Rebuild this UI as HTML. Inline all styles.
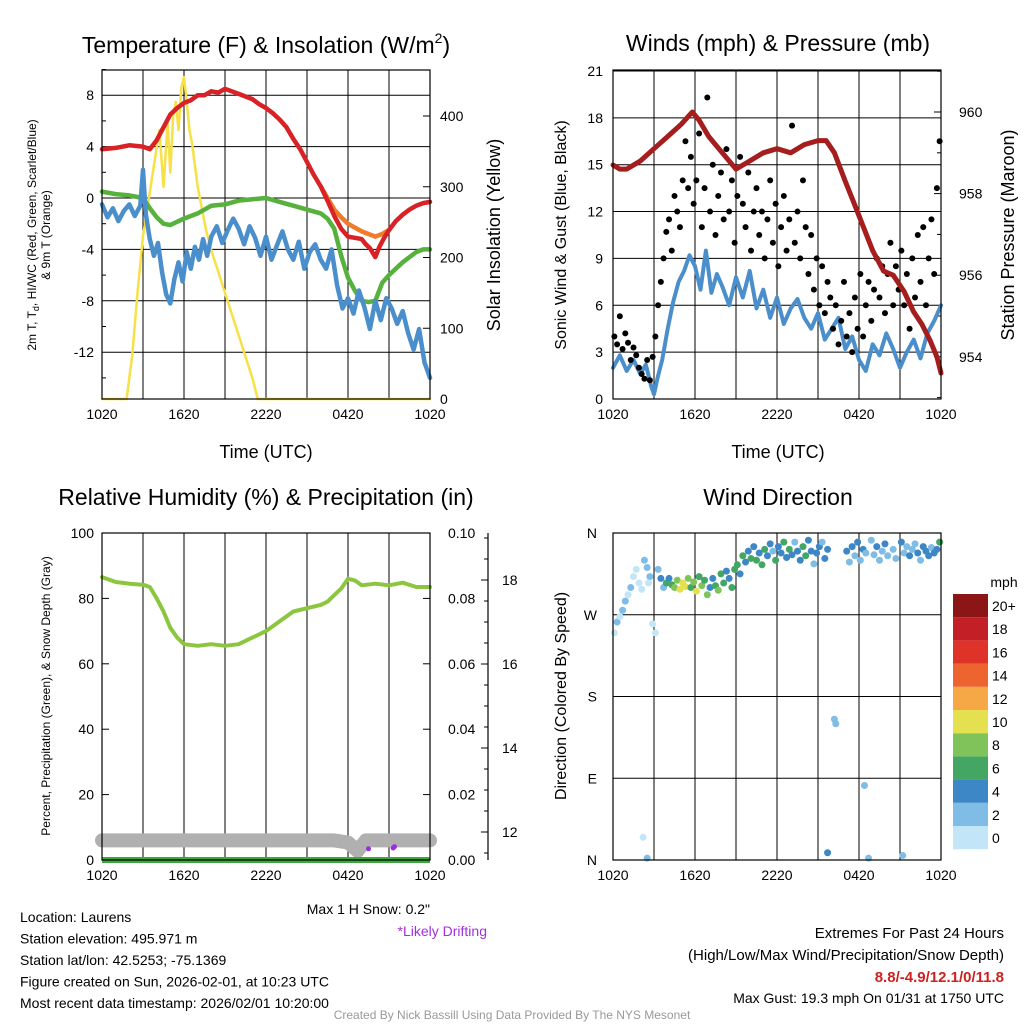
<!DOCTYPE html>
<html><head><meta charset="utf-8"><style>
html,body{margin:0;padding:0;background:#fff}
svg{display:block;font-family:"Liberation Sans",sans-serif}
</style></head><body>
<svg id="c" width="1024" height="1024" viewBox="0 0 1024 1024" xmlns="http://www.w3.org/2000/svg"></svg>
<script>
// ---------------- DATA ----------------
const xTickLabels=["1020","1620","2220","0420","1020"];
const tempTickLabels=["8","4","0","-4","-8","-12"];
const tempTickValues=[8,4,0,-4,-8,-12];
const solarTickValues=[0,100,200,300,400];
const windTickValues=[0,3,6,9,12,15,18,21];
const presTickValues=[954,956,958,960];
const rhTickValues=[0,20,40,60,80,100];
const precipTickLabels=["0.00","0.02","0.04","0.06","0.08","0.10"];
const snowTickValues=[12,14,16,18];
const dirTickLabels=["N","E","S","W","N"];
const speedBinLabels=["0","2","4","6","8","10","12","14","16","18","20+"];

const redHours=[0,1,2,3,3.5,4,4.5,5,5.5,6,6.5,7,7.5,8,8.5,9,9.5,10,10.5,11,11.5,12,12.5,13,13.5,14,14.5,15,15.5,16,16.5,17,17.5,18,18.5,19,19.3,19.6,20,20.3,20.6,21,21.5,22,22.5,23,23.5,24];
const redTemp=[3.8,3.9,4.1,4.0,3.8,4.5,5.5,6.5,7.0,7.4,7.6,8.0,8.0,8.3,8.2,8.5,8.3,8.1,7.9,7.7,7.3,7.0,6.6,6.1,5.5,4.6,3.8,2.8,1.8,0.9,-0.2,-1.4,-2.4,-3.0,-3.1,-3.2,-3.6,-3.9,-4.6,-3.8,-3.2,-2.5,-1.8,-1.3,-0.9,-0.6,-0.4,-0.3];
const orangeHours=[16,16.5,17,17.5,18,18.5,19,19.5,20,20.5,21];
const orangeTemp=[0.9,0,-0.9,-1.5,-2.0,-2.3,-2.6,-2.8,-3.0,-2.8,-2.5];
const greenHours=[0,1,2,3,3.5,4,4.5,5,6,7,8,9,10,11,12,13,14,15,16,16.5,17,17.5,18,18.5,19,19.5,20,20.5,21,21.5,22,22.5,23,23.5,24];
const greenTemp=[0.5,0.3,0.2,0,-0.8,-1.5,-2.0,-2.1,-1.6,-1.2,-0.6,-0.5,-0.2,-0.1,0,-0.3,-0.6,-0.9,-1.2,-1.6,-2.4,-4.5,-6.2,-7.2,-8.0,-8.1,-8.0,-6.6,-6.0,-5.5,-5.0,-4.6,-4.2,-4.0,-4.0];
const blueHours=[0,0.4,0.8,1.2,1.6,2,2.4,2.8,3.0,3.2,3.5,3.8,4.1,4.4,4.7,5.0,5.3,5.6,5.9,6.2,6.5,6.8,7.1,7.4,7.7,8.0,8.4,8.8,9.2,9.6,10,10.4,10.8,11.2,11.6,12,12.4,12.8,13.2,13.6,14,14.4,14.8,15.2,15.6,16,16.4,16.8,17.2,17.6,18,18.4,18.8,19.2,19.6,20,20.4,20.8,21.2,21.6,22,22.4,22.8,23.2,23.6,24];
const blueTemp=[-0.5,-1.5,-0.8,-1.8,-1.0,-0.5,-1.4,-0.6,2.2,-1.2,-3.2,-4.5,-3.5,-5.8,-7.5,-8.2,-6.3,-5.0,-6.5,-4.2,-5.5,-3.8,-4.8,-3.2,-4.5,-3.0,-2.2,-3.5,-2.5,-1.6,-2.4,-3.6,-2.2,-3.1,-4.5,-3.0,-4.8,-3.7,-2.6,-4.0,-4.8,-3.4,-5.5,-4.2,-3.6,-4.8,-5.5,-4.0,-6.8,-8.6,-7.8,-9.0,-7.2,-8.5,-10.2,-8.0,-9.5,-7.8,-8.6,-9.8,-8.8,-10.5,-11.8,-10.2,-12.8,-14.0];
const solarHours=[0,1.8,2.2,2.6,3.0,3.4,3.8,4.2,4.5,4.8,5.0,5.2,5.4,5.6,5.8,6.0,6.2,6.4,6.6,6.8,7.0,7.3,7.6,8.0,8.5,9.0,9.5,10,10.5,11,11.4,12,24];
const solarVal=[0,0,60,150,230,280,330,380,300,390,320,400,420,380,440,455,420,380,360,330,300,270,240,210,180,150,120,90,60,30,0,0,0];

const presHours=[0,0.5,1,2,3,4,5,5.8,6.3,7,8,9,10,11,12,13,14,15,15.6,16.2,17,17.6,18.3,19,19.8,20.5,21.3,22,22.6,23.2,23.7,24];
const presVal=[958.7,958.6,958.6,958.8,959.1,959.4,959.7,960.0,959.8,959.4,959.0,958.6,958.8,959.0,959.1,959.0,959.2,959.3,959.3,959.0,958.3,957.8,957.2,956.6,956.1,956.0,955.6,955.1,954.8,954.4,954.0,953.6];
const sustHours=[0,0.5,1,1.5,2,2.4,2.8,3.0,3.3,3.6,4.0,4.4,4.8,5.2,5.6,6.0,6.4,6.8,7.2,7.6,8.0,8.5,9.0,9.5,10,10.5,11,11.5,12,12.5,13,13.5,14,14.5,15,15.5,16,16.5,17,17.5,18,18.5,19,19.5,20,20.5,21,21.5,22,22.5,23,23.5,24];
const sustVal=[2,2.8,1.8,2.5,1.6,2.2,0.8,0.3,1.5,2.5,4.5,6.2,7.5,8.2,9.2,8.5,7.0,9.5,6.8,8.0,7.2,6.0,7.8,6.5,8.2,5.8,7.0,5.2,6.5,4.8,5.8,6.4,5.2,4.5,5.5,3.8,4.5,5.2,3.2,4.0,2.5,1.8,3.5,2.8,4.2,3.2,2.0,3.0,3.8,2.6,4.2,5.0,6.0];
const gustHours=[0.1,0.3,0.5,0.7,0.9,1.1,1.3,1.5,1.7,1.9,2.1,2.3,2.5,2.7,2.9,3.1,3.3,3.5,3.7,3.9,4.1,4.3,4.5,4.7,4.9,5.1,5.3,5.5,5.7,5.9,6.1,6.3,6.5,6.7,6.9,7.1,7.3,7.5,7.7,7.9,8.1,8.3,8.5,8.7,8.9,9.1,9.3,9.5,9.7,9.9,10.1,10.3,10.5,10.7,10.9,11.1,11.3,11.5,11.7,11.9,12.1,12.3,12.5,12.7,12.9,13.1,13.3,13.5,13.7,13.9,14.1,14.3,14.5,14.7,14.9,15.1,15.3,15.5,15.7,15.9,16.1,16.3,16.5,16.7,16.9,17.1,17.3,17.5,17.7,17.9,18.1,18.3,18.5,18.7,18.9,19.1,19.3,19.5,19.7,19.9,20.1,20.3,20.5,20.7,20.9,21.1,21.3,21.5,21.7,21.9,22.1,22.3,22.5,22.7,22.9,23.1,23.3,23.5,23.7,23.9];
const gustVal=[4,3.5,5.3,3.2,4.2,3.6,2.5,3.3,2.8,2,1.6,1.3,2.5,1.2,2.7,4,6,7.5,9,10.7,11.5,9.5,13,12,11,14,16.5,13.5,15.5,12.5,14,17,11,13.5,19.3,12,15,10.5,13,14.5,11.5,16,12,14,10,13,15.5,12.5,11,14.5,9.5,12,13.5,10.5,12,9,11.5,14,10,12.5,8.5,11,13,9.5,11.5,17.5,10,12,9,14,11,8,10.5,7,9,6,8.5,5.5,7.5,6.5,4.5,6,3.5,5,7.5,4,5.5,3,6.5,4.5,8,4,6,7.5,5,7,9,6.5,8.5,5.5,8,10,6,8.5,7,9.5,6,8,4.5,9,6.5,10.5,7.5,11,6,9,11.5,8,13.5,16.5];

const rhHours=[0,1,2,3,3.5,4,4.5,5,5.5,6,7,8,9,10,11,12,13,14,15,16,16.5,17,17.5,18,18.5,19,20,21,22,23,24];
const rhVal=[86.5,85,84.5,84.2,83.5,80,76,71,68,66,65.5,66,65.5,66,68,70,73,76,77,78,79,81,83,86,85.5,84,84.5,84,84.8,83.5,83.5];
const snowHours=[0,4,8,12,16,17,18,18.7,19.3,20,21,22,23,24];
const snowDepth=[11.8,11.8,11.8,11.8,11.8,11.8,11.75,11.55,11.8,11.8,11.8,11.8,11.8,11.8];
const driftHours=[19.5,21.3,21.4];
const driftDepth=[11.6,11.62,11.65];

const dirHours=[0.1,0.3,0.5,0.7,0.9,1.1,1.3,1.5,1.7,1.9,2.1,2.3,2.5,2.7,2.9,3.1,2.6,3.3,3.5,3.7,3.9,4.1,4.3,4.5,4.7,4.9,5.1,5.3,5.5,5.7,5.9,6.1,6.3,6.5,6.7,6.9,7.1,7.3,7.5,7.7,7.9,8.1,8.3,8.5,8.7,8.9,9.1,9.3,9.5,9.7,9.9,10.1,10.3,10.5,10.7,10.9,11.1,11.3,11.5,11.7,11.9,12.1,12.3,12.5,12.7,12.9,13.1,13.3,13.5,13.7,13.9,14.1,14.3,14.5,14.7,14.9,15.1,15.3,15.5,15.7,16.2,16.3,15.7,17.1,17.3,17.5,17.7,17.9,18.1,18.3,18.5,18.7,18.9,19.1,19.3,19.5,19.7,19.9,20.1,18.4,20.5,20.7,21.2,21.1,21.3,21.5,21.7,21.9,22.1,22.3,22.5,22.7,22.9,23.1,23.3,23.5,23.7,23.9,2.2,2.5];
const dirDeg=[250,262,268,275,285,292,300,312,320,305,298,330,322,312,260,250,305,320,310,300,305,310,303,300,308,298,305,301,310,300,306,296,312,302,308,292,300,310,302,297,315,305,318,310,300,320,325,315,335,328,340,332,345,330,338,325,342,335,348,340,330,345,338,350,333,342,336,350,340,330,345,335,352,340,326,338,345,350,332,342,155,150,8,340,328,345,335,350,330,342,338,2,352,336,345,330,340,348,335,82,342,332,5,350,338,345,335,342,348,338,330,345,340,335,344,338,342,350,25,2];
const dirSpd=[1,2,1,2,2,1,2,1,0,1,1,2,3,2,1,1,1,2,4,3,6,5,7,9,8,10,11,10,9,7,8,10,6,9,7,9,5,4,6,8,6,7,5,4,6,7,6,5,6,4,5,7,4,6,5,7,6,4,5,3,6,5,4,6,5,7,4,3,5,4,6,7,4,5,3,4,5,3,5,4,3,2,4,4,2,4,3,4,2,4,3,2,3,2,4,3,2,4,3,2,3,2,2,4,3,2,4,3,2,4,3,4,5,4,3,5,4,6,1,2];
// ---------------- DRAWING ----------------
const svg=document.getElementById('c');
const NS='http://www.w3.org/2000/svg';
function el(tag,attrs,parent){const e=document.createElementNS(NS,tag);for(const k in attrs)e.setAttribute(k,attrs[k]);(parent||svg).appendChild(e);return e;}
function txt(s,x,y,size,anchor,parent,extra){const t=el('text',Object.assign({x:x,y:y,'font-size':size,'text-anchor':anchor||'middle',fill:'#000'},extra||{}),parent);t.textContent=s;return t;}
function poly(hours,vals,xf,yf,color,w,parent){let d='';for(let i=0;i<hours.length;i++){d+=(i?'L':'M')+xf(hours[i]).toFixed(1)+','+yf(vals[i]).toFixed(1);}return el('path',{d:d,fill:'none',stroke:color,'stroke-width':w,'stroke-linejoin':'round','stroke-linecap':'round'},parent);}
const speedColors=["#c2e6f8","#7fbde6","#3d87c7","#43a663","#7fc35a","#e5e04f","#f6a746","#ee642f","#df332a","#c31f27","#8c1616"];

function frame(x0,y0,x1,y1,name){
  const g=el('g',{});
  
  
  const xf=t=>x0+t*(x1-x0)/24;
  for(let h=3;h<24;h+=3){const l=el('line',{x1:xf(h),x2:xf(h),y1:y0,y2:y1,stroke:'#000','stroke-width':1},g);}
  for(let i=0;i<5;i++){const t=txt(xTickLabels[i],xf(i*6),y1+20,14,'middle',g);
    el('line',{x1:xf(i*6),x2:xf(i*6),y1:y1,y2:y1-7,stroke:'#000'},g);}
  return {g,xf};
}
function border(x0,y0,x1,y1,g){const r=el('rect',{x:x0,y:y0,width:x1-x0,height:y1-y0,fill:'none',stroke:'#000','stroke-width':1.2},g);}

// Panel 1
(function(){
  const X0=102,Y0=70,X1=430,Y1=399;
  const {g,xf}=frame(X0,Y0,X1,Y1,'temperature-panel');
  const yT=v=>198-v*12.85, yS=v=>399-v*0.7075;
  tempTickValues.forEach((v,i)=>{const y=yT(v);el('line',{x1:X0,x2:X1,y1:y,y2:y,stroke:'#000'},g);const t=txt(tempTickLabels[i],X0-8,y+5,14,'end',g);});
  for(let v=-14;v<=10;v+=2){if(v%4)el('line',{x1:X0,x2:X0+4,y1:yT(v),y2:yT(v),stroke:'#000'},g);}
  solarTickValues.forEach(v=>{const y=yS(v);el('line',{x1:X1,x2:X1-7,y1:y,y2:y,stroke:'#000'},g);const t=txt(String(v),X1+10,y+5,14,'start',g);});
  let p=poly(solarHours,solarVal,xf,yS,'#f8e047',2.5,g);
  p=poly(greenHours,greenTemp,xf,yT,'#57b13d',4.5,g);
  p=poly(orangeHours,orangeTemp,xf,yT,'#f07b2a',4.5,g);
  p=poly(redHours,redTemp,xf,yT,'#d82226',4.5,g);
  p=poly(blueHours,blueTemp,xf,yT,'#4a8fcc',4.5,g);
  border(X0,Y0,X1,Y1,g);
  let t=el('text',{x:266,y:53,'font-size':23,'text-anchor':'middle'},g);t.innerHTML='Temperature (F) &amp; Insolation (W/m<tspan font-size="14" dy="-10">2</tspan><tspan dy="10">)</tspan>';
  t=txt('Time (UTC)',266,458,18,'middle',g);
  t=el('text',{x:0,y:0,'font-size':12,'text-anchor':'middle',transform:'translate(36,235) rotate(-90)'},g);t.innerHTML='2m T, T<tspan font-size="9" dy="3">d</tspan><tspan dy="-3">, HI/WC (Red, Green, Scarlet/Blue)</tspan>';
  t=txt('& 9m T (Orange)',0,0,12,'middle',g,{transform:'translate(50,235) rotate(-90)'});
  t=txt('Solar Insolation (Yellow)',0,0,18,'middle',g,{transform:'translate(500,235) rotate(-90)'});
})();

// Panel 2
(function(){
  const X0=613,Y0=70,X1=941,Y1=399;
  const {g,xf}=frame(X0,Y0,X1,Y1,'winds-panel');
  const yW=v=>399-v*15.62, yP=p=>112+(960-p)*40.8;
  windTickValues.forEach(v=>{const y=yW(v);el('line',{x1:X0,x2:X1,y1:y,y2:y,stroke:'#000'},g);const t=txt(String(v),X0-10,y+5,14,'end',g);});
  presTickValues.forEach(v=>{const y=yP(v);el('line',{x1:X1,x2:X1-7,y1:y,y2:y,stroke:'#000'},g);const t=txt(String(v),X1+18,y+5,14,'start',g);});
  for(let v=953;v<=961;v+=2){el('line',{x1:X1,x2:X1-4,y1:yP(v),y2:yP(v),stroke:'#000'},g);}
  let p=poly(sustHours,sustVal,xf,yW,'#4a8fcc',4,g);
  gustHours.forEach((h,i)=>{const c=el('circle',{cx:xf(h),cy:yW(gustVal[i]),r:3,fill:'#000'},g);});
  p=poly(presHours,presVal,xf,yP,'#a51d1d',5,g);
  border(X0,Y0,X1,Y1,g);
  let t=txt('Winds (mph) & Pressure (mb)',778,51,23,'middle',g);
  t=txt('Time (UTC)',778,458,18,'middle',g);
  t=txt('Sonic Wind & Gust (Blue, Black)',0,0,16,'middle',g,{transform:'translate(566,235) rotate(-90)'});
  t=txt('Station Pressure (Maroon)',0,0,18,'middle',g,{transform:'translate(1014,235) rotate(-90)'});
})();

// Panel 3
(function(){
  const X0=102,Y0=533,X1=430,Y1=860;
  const {g,xf}=frame(X0,Y0,X1,Y1,'humidity-panel');
  const yR=v=>860-v*3.27, yS=d=>832-(d-12)*42;
  rhTickValues.forEach((v,i)=>{const y=yR(v);if(v>0&&v<100)el('line',{x1:X0,x2:X0+7,y1:y,y2:y,stroke:'#000'},g);let t=txt(String(v),X0-8,y+5,14,'end',g);
    el('line',{x1:X1,x2:X1-7,y1:y,y2:y,stroke:'#000'},g);t=txt(precipTickLabels[i],X1+18,y+5,14,'start',g);});
  const ax=el('line',{x1:488,x2:488,y1:533,y2:860,stroke:'#000','stroke-width':1.2},g);
  snowTickValues.forEach(v=>{const y=yS(v);el('line',{x1:488,x2:481,y1:y,y2:y,stroke:'#000'},g);const t=txt(String(v),502,y+5,14,'start',g);});
  for(let v=11.5;v<=19;v+=0.5){if(v%2)el('line',{x1:488,x2:484,y1:yS(v),y2:yS(v),stroke:'#000'},g);}
  let p=poly(snowHours,snowDepth,xf,yS,'#b0b0b0',14,g);
  driftHours.forEach((h,i)=>{const c=el('circle',{cx:xf(h),cy:yS(driftDepth[i]),r:2.5,fill:'#9a2ee0'},g);});
  p=el('line',{x1:X0,x2:X1,y1:yR(0),y2:yR(0),stroke:'#3ea83e','stroke-width':6},g);
  p=poly(rhHours,rhVal,xf,yR,'#8cc63f',4,g);
  border(X0,Y0,X1,Y1,g);
  let t=txt('Relative Humidity (%) & Precipitation (in)',266,505,23,'middle',g);
  t=txt('Percent, Precipitation (Green), & Snow Depth (Gray)',0,0,12,'middle',g,{transform:'translate(50,696) rotate(-90)'});
})();

// Panel 4
(function(){
  const X0=613,Y0=533,X1=941,Y1=860;
  const {g,xf}=frame(X0,Y0,X1,Y1,'wind-direction-panel');
  const yD=d=>860-d*0.9083;
  dirTickLabels.forEach((s,i)=>{const y=yD(i*90);el('line',{x1:X0,x2:X1,y1:y,y2:y,stroke:'#000'},g);const t=txt(s,X0-16,y+5,14,'end',g);});
  dirHours.forEach((h,i)=>{const b=Math.min(10,Math.floor(dirSpd[i]/2));const c=el('circle',{cx:xf(h),cy:yD(dirDeg[i]),r:3.5,fill:speedColors[b]},g);});
  border(X0,Y0,X1,Y1,g);
  let t=txt('Wind Direction',778,505,23,'middle',g);
  t=txt('Direction (Colored By Speed)',0,0,16,'middle',g,{transform:'translate(566,696) rotate(-90)'});
  const lg=el('g',{},svg);
  t=txt('mph',1004,587,14,'middle',lg);
  for(let i=0;i<11;i++){const y=826-i*23.2;const r=el('rect',{x:953,y:y,width:35,height:23.2,fill:speedColors[i]},lg);
    const l=txt(speedBinLabels[i],992,y+17,14,'start',lg);}
})();

// Text blocks
const info=["Location: Laurens","Station elevation: 495.971 m","Station lat/lon: 42.5253; -75.1369","Figure created on Sun, 2026-02-01, at 10:23 UTC","Most recent data timestamp: 2026/02/01 10:20:00"];
info.forEach((s,i)=>{const t=txt(s,20,922+i*21.5,14,'start');});
let t=txt('Max 1 H Snow: 0.2"',430,914,14,'end');
t=txt('*Likely Drifting',487,936,14,'end',null,{fill:'#a030e0'});
t=txt('Extremes For Past 24 Hours',1004,938,15,'end');
t=txt('(High/Low/Max Wind/Precipitation/Snow Depth)',1004,960,15,'end');
t=txt('8.8/-4.9/12.1/0/11.8',1004,982,15,'end',null,{fill:'#d02020','font-weight':'bold'});
t=txt('Max Gust: 19.3 mph On 01/31 at 1750 UTC',1004,1003,14,'end');
t=txt('Created By Nick Bassill Using Data Provided By The NYS Mesonet',512,1019,12,'middle',null,{fill:'#999'});
</script>
</body></html>
